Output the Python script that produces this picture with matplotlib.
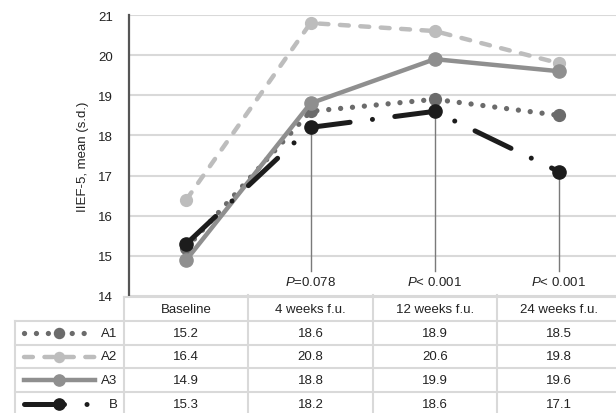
import numpy as np
import matplotlib.pyplot as plt

plt.rcParams['font.family'] = ['Liberation Sans', 'DejaVu Sans']
plt.rcParams['mathtext.fontset'] = 'custom'
plt.rcParams['mathtext.rm'] = 'Liberation Sans'
plt.rcParams['mathtext.it'] = 'Liberation Sans:italic'

# data
categories = ['Baseline', '4 weeks f.u.', '12 weeks f.u.', '24 weeks f.u.']
series_names = ['A1', 'A2', 'A3', 'B']
a1 = [15.2, 18.6, 18.9, 18.5]
a2 = [16.4, 20.8, 20.6, 19.8]
a3 = [14.9, 18.8, 19.9, 19.6]
b = [15.3, 18.2, 18.6, 17.1]
p_labels = ['', r'$\mathit{P}$=0.078', r'$\mathit{P}$< 0.001', r'$\mathit{P}$< 0.001']

values = [a1, a2, a3, b]
colors = ['#6b6b6b', '#bdbdbd', '#8f8f8f', '#1c1c1c']
styles = [
    dict(lw=3.8, dashes=(0.01, 2.25), dash_capstyle='round', marker='o', ms=8.5),
    dict(lw=3.2, dashes=(2.0, 2.6), dash_capstyle='round', marker='o', ms=8.5),
    dict(lw=3.2, ls='-', marker='o', ms=9.5),
    dict(lw=3.6, dashes=(8, 4.5, 0.01, 4.5), dash_capstyle='round', marker='o', ms=9.5),
]
grid_col = '#d9d9d9'

fig = plt.figure(figsize=(6.16, 4.14), dpi=100)
W, H = 616, 414
ax = fig.add_axes([129 / W, (H - 297) / H, 492 / W, 281 / H])
x = np.arange(len(categories))

for vals, c, st in zip(values, colors, styles):
    ax.plot(x, vals, color=c, zorder=3, **st)

# leader lines to the p-value labels
for i, lab in enumerate(p_labels):
    if lab:
        ax.plot([x[i], x[i]], [b[i], 14.62], color='#7a7a7a', lw=1.0, zorder=1)
        ax.text(x[i], 14.35, lab, ha='center', va='center', fontsize=9.5, color='#222222')

ax.set_xlim(-0.462, 3.5)
ax.set_ylim(14, 21)
ax.set_yticks(range(14, 22))
ax.set_xticks([])
ax.grid(axis='y', color=grid_col, lw=1.5, zorder=0)
ax.set_axisbelow(True)
for s in ['top', 'right', 'bottom']:
    ax.spines[s].set_visible(False)
ax.spines['left'].set_color('#555555')
ax.spines['left'].set_linewidth(1.6)
ax.tick_params(axis='y', length=0, pad=11.5, labelsize=9.5, labelcolor='#222222')
ax.set_ylabel('IIEF-5, mean (s.d.)', fontsize=9.5, color='#222222')
ax.yaxis.set_label_coords(-0.081, 0.5)

# data table below the chart
tb = fig.add_axes([0, (H - 417) / H, 621 / W, 119 / H])
tb.set_xlim(-1.5, 3.5)
tb.set_ylim(5, 0)
tb.axis('off')
left_edge = -1.5 + 15 / 124.25
tb.plot([-0.5, 3.5], [0, 0], color=grid_col, lw=1.5, clip_on=False)
for r in range(1, 5):
    tb.plot([left_edge, 3.5], [r, r], color=grid_col, lw=1.5, clip_on=False)
tb.plot([left_edge, left_edge], [1, 5], color=grid_col, lw=1.5, clip_on=False)
tb.plot([-0.5, -0.5], [0, 5], color=grid_col, lw=1.5, clip_on=False)
for k in range(1, 4):
    tb.plot([k - 0.5, k - 0.5], [-0.1, 5], color=grid_col, lw=1.5, clip_on=False)

for i, cat in enumerate(categories):
    tb.text(i, 0.5, cat, ha='center', va='center', fontsize=9.5, color='#222222')

for r, (name, vals, c, st) in enumerate(zip(series_names, values, colors, styles), start=1):
    yy = r + 0.5
    line_st = {k: v for k, v in st.items() if k not in ('marker', 'ms')}
    tb.plot([-1.307, -0.735], [yy, yy], color=c, **line_st)
    tb.plot([-1.025], [yy], color=c, marker='o', ms=st['ms'] * 0.85, ls='none')
    tb.text(-0.555, yy, name, ha='right', va='center', fontsize=9.5, color='#222222')
    for i, v in enumerate(vals):
        tb.text(i, yy, f'{v:.1f}', ha='center', va='center', fontsize=9.5, color='#222222')

fig.savefig('out.png', dpi=100)
